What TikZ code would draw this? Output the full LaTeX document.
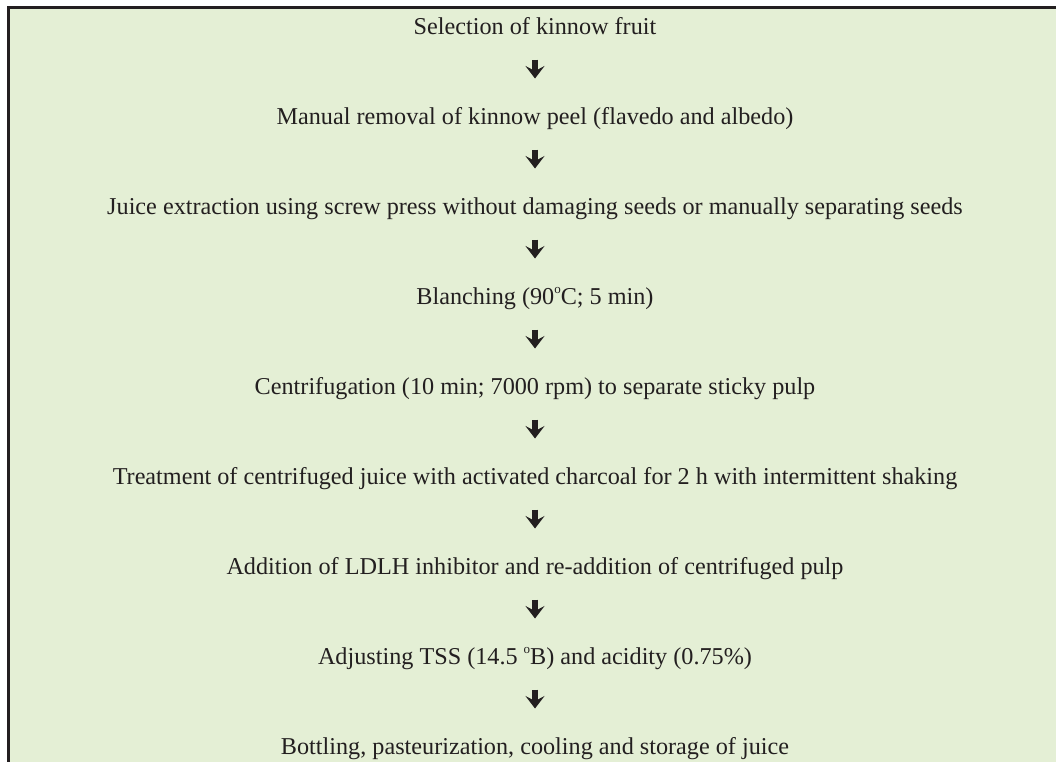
\documentclass[tikz,border=0pt]{standalone}
\usepackage{fontspec}
\setmainfont{Liberation Serif}
\usetikzlibrary{positioning,arrows.meta}
\definecolor{panelgreen}{RGB}{228,239,213}
\definecolor{inkgray}{RGB}{35,31,32}
\newcommand{\degsup}{\raisebox{0.42em}{\fontsize{13}{13}\selectfont o}}

\begin{document}
\begin{tikzpicture}[
  x=1pt, y=1pt,
  font=\fontsize{24.2}{29}\selectfont,
  node distance=67.1pt,
  stage/.style={text=inkgray, inner sep=0pt, text height=17pt, text depth=5.5pt},
  flow/.style={-{Stealth[length=12.5pt,width=19pt,inset=5pt]}, line width=6pt,
    draw=inkgray, shorten <=20pt, shorten >=28.3pt},
  frame/.style={line width=2.6pt, draw=inkgray},
]
\useasboundingbox (0,0) rectangle (1056,-761);

% Green panel, open at the right and bottom (cropped).
\fill[panelgreen] (8.5,-7.3) rectangle (1070,-775);
\draw[frame] (8.5,-775) -- (8.5,-7.3) -- (1070,-7.3);

% The processing steps, top to bottom.
\node[stage] (s1) at (535,-28.25) {Selection of kinnow fruit};
\node[stage, below=of s1] (s2) {Manual removal of kinnow peel (flavedo and albedo)};
\node[stage, below=of s2] (s3) {Juice extraction using screw press without damaging seeds or manually separating seeds};
\node[stage, below=of s3] (s4) {Blanching (90\degsup C; 5 min)};
\node[stage, below=of s4] (s5) {Centrifugation (10 min; 7000 rpm) to separate sticky pulp};
\node[stage, below=of s5] (s6) {Treatment of centrifuged juice with activated charcoal for 2 h with intermittent shaking};
\node[stage, below=of s6] (s7) {Addition of LDLH inhibitor and re-addition of centrifuged pulp};
\node[stage, below=of s7] (s8) {Adjusting TSS (14.5 \degsup B) and acidity (0.75\%)};
\node[stage, below=of s8] (s9) {Bottling, pasteurization, cooling and storage of juice};

% Short arrows between consecutive steps.
\foreach \a/\b in {s1/s2,s2/s3,s3/s4,s4/s5,s5/s6,s6/s7,s7/s8,s8/s9}
  \draw[flow] (\a) -- (\b);

\end{tikzpicture}
\end{document}
